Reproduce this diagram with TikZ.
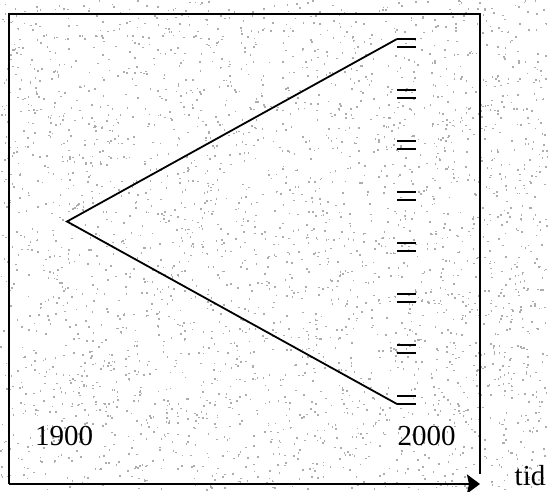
\documentclass[tikz,border=0pt]{standalone}
\usepackage{fontspec}
\setmainfont{Liberation Serif}
\usetikzlibrary{arrows.meta}
\begin{document}
\begin{tikzpicture}[x=1pt,y=-1pt,
  frame/.style={line width=2.4pt,black},
  vline/.style={line width=1.8pt,black,line join=miter},
  bar/.style={line width=2.2pt,black},
  lbl/.style={inner sep=0pt,font=\fontsize{29}{31}\selectfont},
  dotc/.style={fill=black!32}]
\useasboundingbox (0,0) rectangle (549,491);
% stippled background
\pgfmathsetseed{4711}
\foreach \i in {1,...,3200}{
  \pgfmathsetmacro{\px}{rnd*547}
  \pgfmathsetmacro{\py}{rnd*489}
  \fill[dotc] (\px,\py) rectangle ++(1.6,1.6);
}
% frame
\coordinate (bl) at (9,484);
\coordinate (tl) at (9,14);
\coordinate (tr) at (480,14);
\coordinate (rb) at (480,474);
\coordinate (br) at (480,484);
\draw[frame] (bl) -- (tl) -- (tr) -- (rb);
\draw[frame,-{Stealth[length=13pt,width=19pt,inset=2pt]}] (bl) -- (br);
% V lines
\coordinate (v) at (67,221.5);
\coordinate (up) at (397,39);
\coordinate (lo) at (397,404);
\draw[vline] (up) -- (v) -- (lo);
% bars
\foreach \k in {0,...,7}{
  \pgfmathsetmacro{\yy}{39+51*\k}
  \draw[bar] (397,\yy) -- (416,\yy);
  \draw[bar] (397,\yy+8) -- (416,\yy+8);
}
% labels
\node[lbl,anchor=base] (y1900) at (64,445) {1900};
\node[lbl,anchor=base] (y2000) at (426.5,445) {2000};
\node[lbl,anchor=base] (tid) at (530,485) {tid};
\end{tikzpicture}
\end{document}
